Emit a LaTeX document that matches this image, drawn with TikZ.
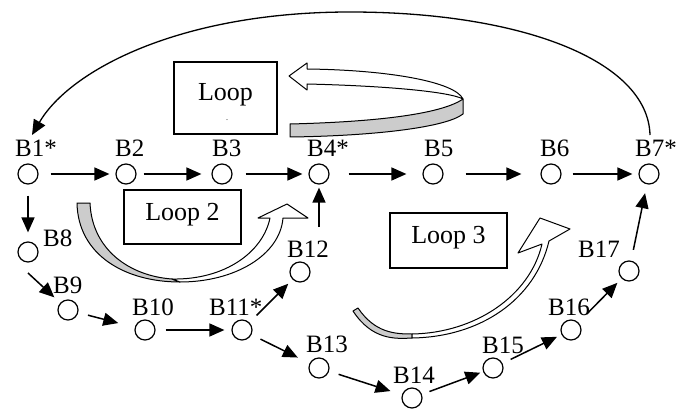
\documentclass[tikz,border=0pt]{standalone}
\usepackage{fontspec}
\setmainfont{Liberation Serif}
\usetikzlibrary{arrows.meta,calc}
\begin{document}
\begin{tikzpicture}[x=1pt,y=-1pt,
  blk/.style={circle,draw,line width=1.2pt,minimum size=20pt,inner sep=0pt},
  lbl/.style={font=\fontsize{25}{28}\selectfont,inner sep=0pt,anchor=base west},
  arr/.style={line width=1.5pt,-{Triangle[length=15pt,width=13pt]}},
  loopbox/.style={draw,line width=1.3pt,inner sep=0pt},
  looptxt/.style={font=\fontsize{26}{30}\selectfont,inner sep=0pt},
  ribbon/.style={draw,line width=1pt,line join=round},
]
\useasboundingbox (0,0) rectangle (677,409);
% blocks
\node[blk] (B1) at (28,174) {};
\node[blk] (B2) at (126,174) {};
\node[blk] (B3) at (222,174) {};
\node[blk] (B4) at (319,174) {};
\node[blk] (B5) at (433,174) {};
\node[blk] (B6) at (551,174) {};
\node[blk] (B7) at (649,174) {};
\node[blk] (B8) at (28,252) {};
\node[blk] (B9) at (68,310) {};
\node[blk] (B10) at (145,330) {};
\node[blk] (B11) at (242,330) {};
\node[blk] (B12) at (300,272) {};
\node[blk] (B13) at (319,368) {};
\node[blk] (B14) at (412,398) {};
\node[blk] (B15) at (493,368) {};
\node[blk] (B16) at (571,330) {};
\node[blk] (B17) at (629,271) {};
% labels
\node[lbl] (L1) at (15,157) {B1*};
\node[lbl] (L2) at (115,157) {B2};
\node[lbl] (L3) at (212,157) {B3};
\node[lbl] (L4) at (307,157) {B4*};
\node[lbl] (L5) at (424,157) {B5};
\node[lbl] (L6) at (540,157) {B6};
\node[lbl] (L7) at (635,157) {B7*};
\node[lbl] (L8) at (43,246) {B8};
\node[lbl] (L9) at (53,293) {B9};
\node[lbl] (L10) at (132,315) {B10};
\node[lbl] (L11) at (209,315) {B11*};
\node[lbl] (L12) at (287,257) {B12};
\node[lbl] (L13) at (306,352) {B13};
\node[lbl] (L14) at (393,383) {B14};
\node[lbl] (L15) at (482,353) {B15};
\node[lbl] (L16) at (548,315) {B16};
\node[lbl] (L17) at (578,257) {B17};
% row arrows
\draw[arr,shorten <=12pt,shorten >=6pt] (B1) -- (B2);
\draw[arr,shorten <=7pt,shorten >=10pt] (B2) -- (B3);
\draw[arr,shorten <=13pt,shorten >=6pt] (B3) -- (B4);
\draw[arr,shorten <=19pt,shorten >=16pt] (B4) -- (B5);
\draw[arr,shorten <=22pt,shorten >=19pt] (B5) -- (B6);
\draw[arr,shorten <=11pt,shorten >=6pt] (B6) -- (B7);
% lower arrows
\draw[arr,shorten <=11pt,shorten >=9pt] (B1) -- (B8);
\coordinate (s8) at ($(B8)+(0,21)$);
\draw[arr,shorten >=8pt] (s8) -- (B9);
\draw[arr,shorten <=10pt,shorten >=17pt] (B9) -- (B10);
\draw[arr,shorten <=10pt,shorten >=7pt] (B10) -- (B11);
\draw[arr,shorten <=10pt,shorten >=6pt] (B11) -- (B12);
\coordinate (s12) at ($(B4)+(0,53)$);
\draw[arr,shorten >=3pt] (s12) -- (B4);
\draw[arr,shorten <=10pt,shorten >=13pt] (B11) -- (B13);
\draw[arr,shorten <=10pt,shorten >=12pt] (B13) -- (B14);
\draw[arr,shorten <=8pt,shorten >=3pt] (B14) -- (B15);
\draw[arr,shorten <=9pt,shorten >=5pt] (B15) -- (B16);
\draw[arr,shorten <=12pt,shorten >=6pt] (B16) -- (B17);
\draw[arr,shorten <=11pt,shorten >=9pt] (B17) -- (B7);
% big return arc
\coordinate (a7) at (650,135);
\coordinate (a1) at (32,135);
\draw[arr,line width=1.3pt] (a7) .. controls (648,60) and (520,12) .. (350,12)
  .. controls (180,12) and (70,70) .. (a1);
% loop boxes
\node[loopbox,minimum width=103pt,minimum height=72pt] (box1) at (225.5,98) {};
\node[looptxt] (t1) at (225.5,95) {Loop};
\node[font=\fontsize{8}{8}\selectfont,inner sep=0pt] (dot1) at (227,120) {.};
\node[loopbox,minimum width=117pt,minimum height=54pt] (box2) at (182.5,217) {};
\node[looptxt] (t2) at (182.5,215) {Loop 2};
\node[loopbox,minimum width=117pt,minimum height=55pt] (box3) at (448.5,240.5) {};
\node[looptxt] (t3) at (448.5,238) {Loop 3};
% loop 1 ribbon
\path[ribbon,fill=white] (307,69) .. controls (390,70) and (455,82) .. (463,99)
  .. controls (450,92) and (390,86) .. (307,84) -- (307,90) -- (289,76) -- (307,63) -- cycle;
\path[ribbon,fill=black!20] (463,99) .. controls (440,115) and (370,122) .. (290,124)
  -- (290,137) .. controls (370,136) and (445,128) .. (463,114) -- cycle;
% loop 2 ribbon
\path[ribbon,fill=black!20] (77,203) .. controls (78,255) and (125,282) .. (180,282)
  -- (172,279) .. controls (130,276) and (92,250) .. (90,203) -- cycle;
\path[ribbon,fill=white] (172,279) -- (180,282) .. controls (235,282) and (280,255) .. (283,218)
  -- (308,218) -- (287,204) -- (258,218) -- (270,218)
  .. controls (263,252) and (225,280) .. (172,279) -- cycle;
% loop 3 ribbon
\path[ribbon,fill=black!20] (353,311) .. controls (372,340) and (395,339) .. (412,338)
  -- (412,334) .. controls (395,334) and (375,333) .. (358,308) -- cycle;
\path[ribbon,fill=white] (412,338) .. controls (480,337) and (535,300) .. (549,241)
  -- (570,229) -- (540,218) -- (518,253) -- (542,244)
  .. controls (530,296) and (475,333) .. (412,334) -- cycle;
\end{tikzpicture}
\end{document}
